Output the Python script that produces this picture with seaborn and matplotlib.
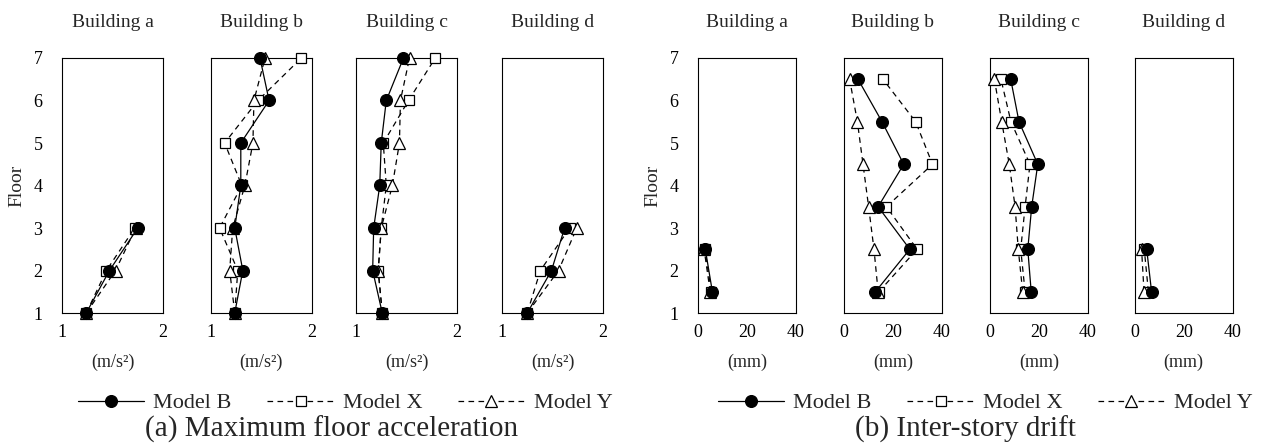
import numpy as np
import matplotlib
matplotlib.use("Agg")
import matplotlib.pyplot as plt
import seaborn as sns

# ---------------- data ----------------
buildings = ["Building a", "Building b", "Building c", "Building d"]
models = ["Model B", "Model X", "Model Y"]

# (a) Maximum floor acceleration (m/s2)
acc_floors_a = [1, 2, 3]
acc_floors_b = [1, 2, 3, 4, 5, 6, 7]
acc_floors_c = [1, 2, 3, 4, 5, 6, 7]
acc_floors_d = [1, 2, 3]

acc_a_B = [1.24, 1.47, 1.75]
acc_a_X = [1.24, 1.44, 1.72]
acc_a_Y = [1.24, 1.53, 1.73]

acc_b_B = [1.24, 1.32, 1.24, 1.30, 1.30, 1.58, 1.49]
acc_b_X = [1.24, 1.27, 1.09, 1.31, 1.14, 1.47, 1.90]
acc_b_Y = [1.24, 1.19, 1.22, 1.34, 1.42, 1.43, 1.54]

acc_c_B = [1.26, 1.165, 1.175, 1.235, 1.25, 1.30, 1.47]
acc_c_X = [1.26, 1.22, 1.25, 1.30, 1.27, 1.52, 1.785]
acc_c_Y = [1.26, 1.22, 1.25, 1.36, 1.43, 1.44, 1.53]

acc_d_B = [1.25, 1.49, 1.62]
acc_d_X = [1.25, 1.38, 1.67]
acc_d_Y = [1.25, 1.56, 1.74]

# (b) Inter-story drift (mm)
drift_floors_a = [1.5, 2.5]
drift_floors_b = [1.5, 2.5, 3.5, 4.5, 5.5, 6.5]
drift_floors_c = [1.5, 2.5, 3.5, 4.5, 5.5, 6.5]
drift_floors_d = [1.5, 2.5]

drift_a_B = [5.9, 3.0]
drift_a_X = [5.5, 2.8]
drift_a_Y = [5.0, 2.5]

drift_b_B = [12.9, 27.0, 14.0, 24.5, 15.6, 5.75]
drift_b_X = [14.3, 30.0, 17.4, 36.3, 29.4, 16.0]
drift_b_Y = [14.0, 12.3, 10.1, 7.8, 5.5, 2.3]

drift_c_B = [16.9, 15.5, 17.1, 19.6, 11.9, 8.5]
drift_c_X = [14.4, 12.6, 14.4, 16.4, 8.6, 4.5]
drift_c_Y = [13.4, 11.6, 10.3, 7.9, 4.8, 1.8]

drift_d_B = [6.8, 4.8]
drift_d_X = [5.5, 3.8]
drift_d_Y = [3.7, 2.7]

acc_xticks = [1, 2]
drift_xticks = [0, 20, 40]
floor_ticks = [1, 2, 3, 4, 5, 6, 7]

acc_sets = [
    (acc_floors_a, [acc_a_B, acc_a_X, acc_a_Y]),
    (acc_floors_b, [acc_b_B, acc_b_X, acc_b_Y]),
    (acc_floors_c, [acc_c_B, acc_c_X, acc_c_Y]),
    (acc_floors_d, [acc_d_B, acc_d_X, acc_d_Y]),
]
drift_sets = [
    (drift_floors_a, [drift_a_B, drift_a_X, drift_a_Y]),
    (drift_floors_b, [drift_b_B, drift_b_X, drift_b_Y]),
    (drift_floors_c, [drift_c_B, drift_c_X, drift_c_Y]),
    (drift_floors_d, [drift_d_B, drift_d_X, drift_d_Y]),
]

# ---------------- style ----------------
sns.set_theme(style="white")
plt.rcParams["font.family"] = ["Liberation Serif", "DejaVu Serif"]
plt.rcParams["axes.linewidth"] = 0.8
plt.rcParams["axes.edgecolor"] = "black"

model_styles = [
    dict(marker="o", markersize=8.5, markerfacecolor="black", markeredgecolor="black",
         linestyle="-", zorder=5),
    dict(marker="s", markersize=7, markerfacecolor="white", markeredgecolor="black",
         linestyle=(0, (4.5, 3.5)), zorder=3),
    dict(marker="^", markersize=8.5, markerfacecolor="white", markeredgecolor="black",
         linestyle=(0, (4.5, 3.5)), zorder=4),
]

W, H = 1265, 448
fig = plt.figure(figsize=(W / 100, H / 100), dpi=100)

ax_top, ax_bot = 58, 313
acc_lefts = [62, 210.5, 356, 502]
acc_w = 101
drift_lefts = [698, 844, 990, 1135]
drift_w = 97.5


def make_axes(left, width):
    return fig.add_axes([left / W, 1 - ax_bot / H, width / W, (ax_bot - ax_top) / H])


def draw_panel(lefts, width, sets, xlim, xticks, unit):
    handles = None
    for i, (left, (floors, vals)) in enumerate(zip(lefts, sets)):
        ax = make_axes(left, width)
        for m, v, st in zip(models, vals, model_styles):
            sns.lineplot(x=v, y=floors, ax=ax, sort=False, estimator=None,
                         color="black", linewidth=0.9, markeredgewidth=0.9,
                         clip_on=False, label=m, legend=False, **st)
        ax.set_xlim(*xlim)
        ax.set_ylim(1, 7)
        ax.set_xticks(xticks)
        ax.set_xticklabels([str(t) for t in xticks])
        ax.set_yticks(floor_ticks)
        ax.tick_params(direction="in", length=3.3, width=0.8, labelsize=13,
                       colors="black", pad=8)
        ax.tick_params(axis="y", pad=14)
        for s in ax.spines.values():
            s.set_visible(True)
            s.set_color("black")
            s.set_linewidth(0.8)
        ax.set_title(buildings[i], fontsize=14, pad=22)
        ax.set_xlabel(unit, fontsize=13, labelpad=9)
        if i == 0:
            ax.set_ylabel("Floor", fontsize=14, labelpad=6)
            handles, labels = ax.get_legend_handles_labels()
        else:
            ax.set_ylabel("")
            ax.tick_params(axis="y", labelleft=False)
    return handles, labels


h1, l1 = draw_panel(acc_lefts, acc_w, acc_sets, (1, 2), acc_xticks, "(m/s²)")
h2, l2 = draw_panel(drift_lefts, drift_w, drift_sets, (0, 40), drift_xticks, "(mm)")

legend_kw = dict(loc="center", ncol=3, frameon=False, fontsize=16, handlelength=3.0,
                 handletextpad=0.4, columnspacing=1.6, borderpad=0)
fig.legend(h1, l1, bbox_to_anchor=(345 / W, 1 - 403 / H), **legend_kw)
fig.legend(h2, l2, bbox_to_anchor=(985 / W, 1 - 403 / H), **legend_kw)

fig.text(332 / W, 1 - 429 / H, "(a) Maximum floor acceleration", ha="center", va="center",
         fontsize=21)
fig.text(965 / W, 1 - 429 / H, "(b) Inter-story drift", ha="center", va="center",
         fontsize=21)

fig.savefig("out.png", dpi=100, facecolor="white")
